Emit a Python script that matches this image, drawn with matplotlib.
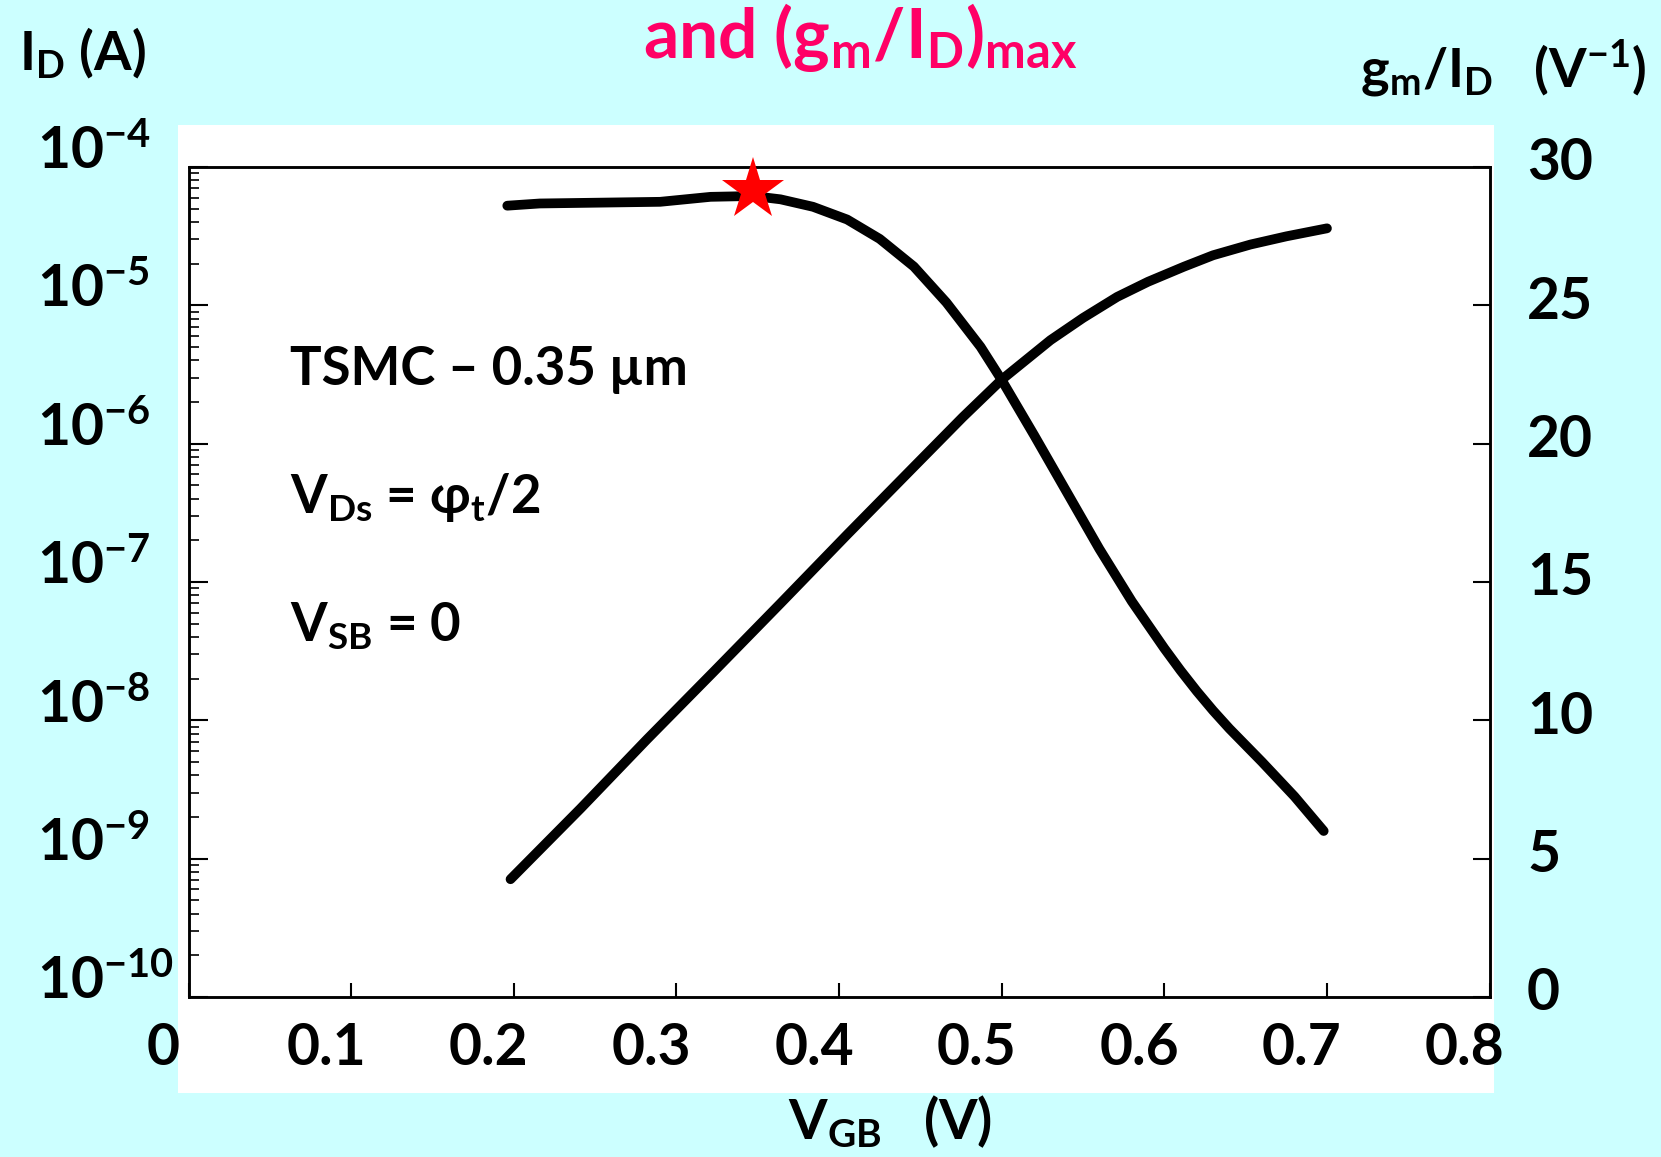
import matplotlib
matplotlib.use('Agg')
import matplotlib.pyplot as plt
from matplotlib.patches import Rectangle
from matplotlib.transforms import ScaledTranslation

# drain current I_D (A) against V_GB (V)
vgb_id = [0.198, 0.241, 0.282, 0.323, 0.364, 0.405, 0.446, 0.476, 0.50,
          0.53, 0.55, 0.571, 0.59, 0.612, 0.63, 0.653, 0.675, 0.70]
id_amps = [7.1e-10, 2.3e-9, 7.3e-9, 2.25e-8, 7.0e-8, 2.2e-7, 6.8e-7, 1.55e-6,
           2.9e-6, 5.6e-6, 8.1e-6, 1.15e-5, 1.48e-5, 1.9e-5, 2.3e-5, 2.75e-5,
           3.15e-5, 3.6e-5]

# gm/ID (1/V) against V_GB (V)
vgb_gm = [0.196, 0.216, 0.29, 0.321, 0.347, 0.364, 0.384, 0.405, 0.425, 0.446,
          0.466, 0.487, 0.50, 0.52, 0.54, 0.56, 0.58, 0.60, 0.61, 0.62, 0.63,
          0.64, 0.66, 0.68, 0.698]
gm_id = [28.6, 28.68, 28.74, 28.92, 28.95, 28.83, 28.56, 28.1, 27.4, 26.4,
         25.1, 23.5, 22.3, 20.3, 18.25, 16.2, 14.3, 12.6, 11.8, 11.05, 10.35,
         9.7, 8.5, 7.25, 6.0]

# (gm/ID)max marker
star_vgb = 0.347
star_gm = 29.18

x_ticks = [0, 0.1, 0.2, 0.3, 0.4, 0.5, 0.6, 0.7, 0.8]
x_labels = ['0', '0.1', '0.2', '0.3', '0.4', '0.5', '0.6', '0.7', '0.8']
id_ticks = [1e-10, 1e-9, 1e-8, 1e-7, 1e-6, 1e-5, 1e-4]
id_labels = [r'10$^{\mathbf{-10}}$', r'10$^{\mathbf{-9}}$', r'10$^{\mathbf{-8}}$',
             r'10$^{\mathbf{-7}}$', r'10$^{\mathbf{-6}}$', r'10$^{\mathbf{-5}}$',
             r'10$^{\mathbf{-4}}$']
gm_ticks = [0, 5, 10, 15, 20, 25, 30]

plt.rcParams['font.family'] = ['Lato', 'DejaVu Sans']
plt.rcParams['font.weight'] = 'bold'
plt.rcParams['mathtext.fontset'] = 'custom'
plt.rcParams['mathtext.rm'] = 'Lato:bold'
plt.rcParams['mathtext.bf'] = 'Lato:bold'
plt.rcParams['mathtext.it'] = 'Lato:bold'

fig = plt.figure(figsize=(16.61, 11.57), dpi=100, facecolor='#ccffff')

# white panel behind the plot
fig.add_artist(Rectangle((0.107, 0.0553), 0.7925, 0.8367, transform=fig.transFigure,
                         facecolor='white', edgecolor='none', zorder=-1))

ax = fig.add_axes([0.1135, 0.1383, 0.7833, 0.7174])
ax.set_facecolor('white')
ax.set_xlim(0, 0.8)
ax.set_yscale('log')
ax.set_ylim(1e-10, 1e-4)
ax.plot(vgb_id, id_amps, color='black', lw=7, solid_capstyle='round',
        solid_joinstyle='round', zorder=3)

for s in ax.spines.values():
    s.set_linewidth(1.8)

ax.set_xticks(x_ticks)
ax.set_xticklabels(x_labels, fontsize=41, fontweight='bold')
ax.set_yticks(id_ticks)
ax.set_yticklabels(id_labels, fontsize=41, fontweight='bold', ha='left')
ax.tick_params(axis='x', direction='in', length=10, width=1.5, pad=18, top=False)
ax.tick_params(axis='y', which='major', direction='in', length=14, width=1.5, pad=109)
ax.tick_params(axis='y', which='minor', direction='in', length=7, width=1.2)

# slide labels sit a little off the ticks
for lab in ax.get_xticklabels():
    lab.set_transform(lab.get_transform() + ScaledTranslation(-0.25, 0, fig.dpi_scale_trans))
for lab in ax.get_yticklabels():
    lab.set_transform(lab.get_transform() + ScaledTranslation(0, 0.2, fig.dpi_scale_trans))

ax2 = ax.twinx()
ax2.set_ylim(0, 30)
ax2.plot(vgb_gm, gm_id, color='black', lw=7, solid_capstyle='round',
         solid_joinstyle='round', zorder=3)
ax2.plot([star_vgb], [star_gm], marker='*', color='red', markersize=47,
         markeredgewidth=0, clip_on=False, zorder=5)
ax2.set_yticks(gm_ticks)
ax2.set_yticklabels([str(t) for t in gm_ticks], fontsize=41, fontweight='bold')
ax2.tick_params(axis='y', direction='in', length=12, width=1.5, pad=27)
for lab in ax2.get_yticklabels():
    lab.set_transform(lab.get_transform() + ScaledTranslation(0, 0.08, fig.dpi_scale_trans))
for s in ax2.spines.values():
    s.set_linewidth(1.8)

# titles and axis names
fig.text(0.518, 0.95, r'and (g$_{\mathregular{m}}$/I$_{\mathregular{D}}$)$_{\mathregular{max}}$',
         color='#ff0066', fontsize=50, fontweight='bold', ha='center', va='baseline')
fig.text(0.0114, 0.940, r'I$_{\mathregular{D}}$ (A)', fontsize=39, fontweight='bold',
         ha='left', va='baseline')
fig.text(0.9916, 0.924, r'g$_{\mathregular{m}}$/I$_{\mathregular{D}}$   (V$^{\mathregular{-1}}$)',
         fontsize=39, fontweight='bold', ha='right', va='baseline')
fig.text(0.536, 0.015, r'V$_{\mathregular{GB}}$   (V)', fontsize=40, fontweight='bold',
         ha='center', va='baseline')

# device notes
fig.text(0.1746, 0.6672, 'TSMC – 0.35 µm', fontsize=38, fontweight='bold', va='baseline')
fig.text(0.1746, 0.5566, r'V$_{\mathregular{Ds}}$ = φ$_{\mathregular{t}}$/2', fontsize=38,
         fontweight='bold', va='baseline')
fig.text(0.1746, 0.4451, r'V$_{\mathregular{SB}}$ = 0', fontsize=38, fontweight='bold',
         va='baseline')

plt.savefig('out.png', dpi=100, facecolor=fig.get_facecolor())
